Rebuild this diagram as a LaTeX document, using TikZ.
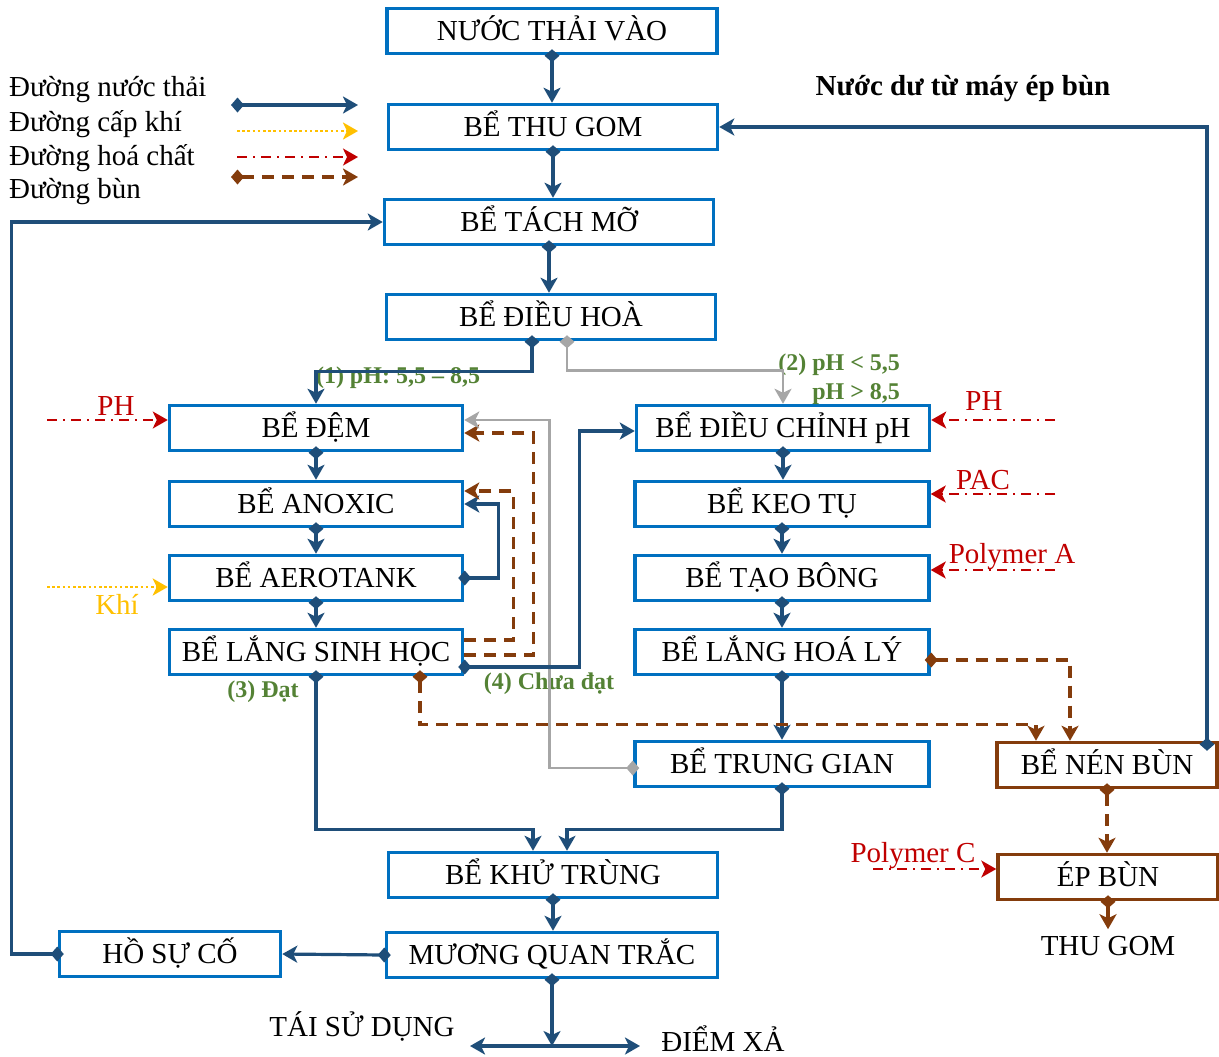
\documentclass[tikz,border=0pt]{standalone}
\usepackage{fontspec}
\setmainfont{Liberation Serif}
\usetikzlibrary{arrows.meta}
\definecolor{tankblue}{RGB}{0,112,192}
\definecolor{lineblue}{RGB}{31,78,121}
\definecolor{sludgebrown}{RGB}{132,60,12}
\definecolor{chemred}{RGB}{192,0,0}
\definecolor{airyellow}{RGB}{255,192,0}
\definecolor{bypassgrey}{RGB}{166,166,166}
\definecolor{notegreen}{RGB}{84,130,53}
\begin{document}
\begin{tikzpicture}[x=.5pt,y=-.5pt,
	every node/.style={font=\fontsize{14.5}{17}\selectfont},
	>={Stealth[length=7.5pt,width=8.5pt,inset=2pt]},
	valve/.tip={Diamond[length=6.5pt,width=7.5pt]},
	tank/.style={draw=tankblue,line width=1.75pt,fill=white,inner sep=0pt,minimum height=22.5pt,
		text height=9.8pt,text depth=0pt},
	sludgetank/.style={tank,draw=sludgebrown},
	flow/.style={draw=lineblue,line width=1.6pt,valve->,shorten <=-3pt},
	bypass/.style={flow,draw=bypassgrey,line width=1.3pt},
	sludge/.style={flow,draw=sludgebrown,dash pattern=on 6pt off 4pt},
	return/.style={sludge,->,shorten <=0pt},
	chem/.style={draw=chemred,line width=1.1pt,dash pattern=on 5pt off 3pt on 1pt off 3pt,->},
	air/.style={draw=airyellow,line width=1.4pt,dash pattern=on 1.3pt off 1.3pt,->},
	note/.style={text=notegreen,font=\fontsize{12}{14}\selectfont\bfseries}]
\useasboundingbox (0,0) rectangle (1219,1056);

% legend
\foreach \txt [count=\i] in {Đường nước thải,Đường cấp khí,Đường hoá chất,Đường bùn}
	\node[anchor=west] (legend\i) at (2,56+34*\i) {\txt};
\foreach \kind/\y [count=\i] in {flow/105,air/131,chem/157,sludge/177}{
	\coordinate (key\i) at (237,\y);
	\coordinate (keyend\i) at (358,\y);
	\draw[\kind] (key\i) -- (keyend\i);
}
\node[font=\fontsize{14.5}{17}\selectfont\bfseries] (pressNote) at (963,89) {Nước dư từ máy ép bùn};

% tanks
\node[tank,minimum width=165pt] (inflow) at (552,31) {NƯỚC THẢI VÀO};
\node[tank,minimum width=164.5pt] (collect) at (553,127) {BỂ THU GOM};
\node[tank,minimum width=164.5pt] (grease) at (549,222) {BỂ TÁCH MỠ};
\node[tank,minimum width=164.5pt] (equal) at (551,317) {BỂ ĐIỀU HOÀ};
\node[tank,minimum width=146.5pt] (buffer) at (316,428) {BỂ ĐỆM};
\node[tank,minimum width=146.5pt] (anoxic) at (316,504) {BỂ ANOXIC};
\node[tank,minimum width=146.5pt] (aero) at (316,578) {BỂ AEROTANK};
\node[tank,minimum width=146.5pt] (bioset) at (316,652) {BỂ LẮNG SINH HỌC};
\node[tank,minimum width=146.5pt] (phadj) at (783,428) {BỂ ĐIỀU CHỈNH pH};
\node[tank,minimum width=147pt] (coag) at (782,504) {BỂ KEO TỤ};
\node[tank,minimum width=147pt] (floc) at (782,578) {BỂ TẠO BÔNG};
\node[tank,minimum width=147pt] (chemset) at (782,652) {BỂ LẮNG HOÁ LÝ};
\node[tank,minimum width=147pt] (inter) at (782,764) {BỂ TRUNG GIAN};
\node[sludgetank,minimum width=110pt] (thicken) at (1107,765) {BỂ NÉN BÙN};
\node[sludgetank,minimum width=110pt] (press) at (1108,877) {ÉP BÙN};
\node[tank,minimum width=164.5pt] (disinf) at (553,875) {BỂ KHỬ TRÙNG};
\node[tank,minimum width=165.5pt] (monitor) at (552,955) {MƯƠNG QUAN TRẮC};
\node[tank,minimum width=110.5pt] (emerg) at (170,954) {HỒ SỰ CỐ};
\node (sludgeout) at (1108,946) {THU GOM};
\node (reuse) at (362,1026) {TÁI SỬ DỤNG};
\node[anchor=base] (discharge) at (723,1051) {ĐIỂM XẢ};

% notes
\node[note] (okNote) at (398,378) {(1) pH: 5,5 – 8,5};
\node[note,anchor=east] (adjNote) at (907,365) {(2) pH < 5,5};
\node[note,anchor=east] (adjNote2) at (907,394) {pH > 8,5};
\node[note] (passNote) at (263,692) {(3) Đạt};
\node[note] (failNote) at (549,684) {(4) Chưa đạt};

% main flow
\draw[flow] (inflow.south) -- (inflow.south |- collect.north);
\foreach \from/\to in {collect/grease,grease/equal,buffer/anoxic,anoxic/aero,aero/bioset,
	phadj/coag,coag/floc,floc/chemset,chemset/inter,disinf/monitor}
	\draw[flow] (\from.south) -- (\from.south |- \to.north);
\draw[flow] ([xshift=-9.5pt]equal.south) -- ++(0,30) -| (buffer.north);
\draw[bypass] ([xshift=8pt]equal.south) -- ++(0,29) -| (phadj.north);
\draw[flow] (aero.east) -- ++(34,0) |- (anoxic.east);
\draw[return] ([yshift=6pt]bioset.east) -- ++(49,0) |- ([yshift=6.5pt]anoxic.east);
\draw[return] ([yshift=-1.5pt]bioset.east) -- ++(69,0) |- ([yshift=-2.5pt]buffer.east);
\draw[bypass] ([yshift=-2pt]inter.west) -- ++(-84,0) |- ([yshift=4pt]buffer.east);
\draw[flow] ([yshift=-7.5pt]bioset.east) -- ++(115,0) |- ([yshift=-1.5pt]phadj.west);
\draw[flow] (bioset.south) -- ++(0,153) -| ([xshift=-10pt]disinf.north);
\draw[flow] (inter.south) -- ++(0,41) -| ([xshift=7pt]disinf.north);
\draw[flow] (monitor.west) -- (emerg.east);
\draw[flow] (emerg.west) -- ++(-46,0) |- (grease.west);
\coordinate (split) at (552,1046);
\coordinate (reuseEnd) at (470,1046);
\coordinate (dischargeEnd) at (640,1046);
\draw[flow] (monitor.south) -- (monitor.south |- split);
\draw[flow,<->,shorten <=0pt] (reuseEnd) -- (dischargeEnd);

% sludge
\draw[sludge] ([xshift=52pt]bioset.south) -- ++(0,48.5) -| ([xshift=-35.5pt]thicken.north);
\draw[sludge] ([yshift=-4pt]chemset.east) -| ([xshift=-18.5pt]thicken.north);
\draw[sludge] (thicken.south) -- (thicken.south |- press.north);
\draw[sludge] (press.south) -- (sludgeout.north);
\draw[flow] ([xshift=50pt,yshift=-2pt]thicken.north) |- (collect.east);

% chemicals and air
\coordinate (phIn) at (47,420);
\coordinate (airIn) at (47,587);
\coordinate (phAdjIn) at (1055,420);
\coordinate (pacIn) at (1055,494);
\coordinate (polyAIn) at (1055,570);
\coordinate (polyCIn) at (873,869);
\draw[chem] (phIn) -- (phIn -| buffer.west);
\draw[air] (airIn) -- (airIn -| aero.west);
\draw[chem] (phAdjIn) -- (phAdjIn -| phadj.east);
\draw[chem] (pacIn) -- (pacIn -| coag.east);
\draw[chem] (polyAIn) -- (polyAIn -| floc.east);
\draw[chem] (polyCIn) -- (polyCIn -| press.west);
\node[text=chemred] (phLabel) at (116,406) {PH};
\node[text=airyellow] (airLabel) at (117,604) {Khí};
\node[text=chemred] (phAdjLabel) at (984,401) {PH};
\node[text=chemred] (pacLabel) at (983,480) {PAC};
\node[text=chemred] (polyALabel) at (1012,557) {Polymer A};
\node[text=chemred] (polyCLabel) at (913,856) {Polymer C};
\end{tikzpicture}
\end{document}
